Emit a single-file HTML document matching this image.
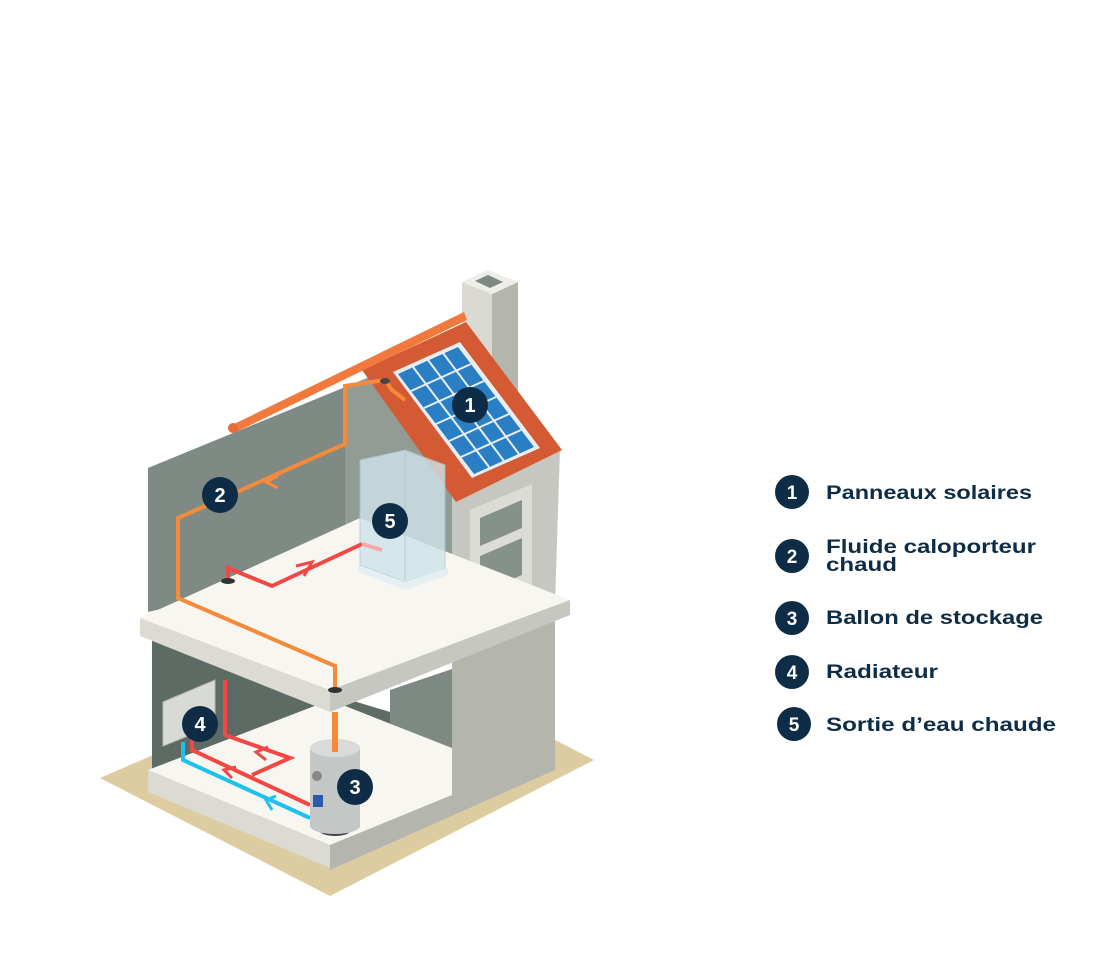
<!DOCTYPE html>
<html><head><meta charset="utf-8"><style>
html,body{margin:0;padding:0;background:#fff;width:1101px;height:963px;overflow:hidden}
svg{display:block}
text{font-family:"Liberation Sans",sans-serif;font-weight:bold;fill:#0E2C45}
.b text{fill:#fff;text-anchor:middle}
</style></head><body>
<svg width="1101" height="963" viewBox="0 0 1101 963" xmlns="http://www.w3.org/2000/svg">
<polygon points="100,778 160,752 540,732 594,760 330,896" fill="#DCCCA0"/>
<polygon points="152,640 390,712 390,740 152,772" fill="#5E6A64"/>
<polygon points="390,690 455,668 455,780 390,800" fill="#7E8984"/>
<polygon points="148,770 330,700 452,748 452,795 330,845" fill="#F7F6F1"/>
<polygon points="148,770 330,845 330,868 148,792" fill="#DCDBD3"/>
<polygon points="452,650 555,615 555,770 330,870 330,845 452,795" fill="#B4B6AE"/>
<polygon points="148,468 372,376 372,560 148,612" fill="#7F8A85"/>
<polygon points="345,388 372,376 455,470 455,560 345,560" fill="#939B95"/>
<polygon points="452,458 560,448 555,605 452,650" fill="#C6C7C0"/>
<polygon points="470,510 532,484 532,585 470,612" fill="#DCDCD6"/>
<polygon points="480,518 522,500 522,528 480,546" fill="#87918C"/>
<polygon points="480,556 522,538 522,575 480,593" fill="#87918C"/>
<polygon points="462,282 492,294 492,400 462,390" fill="#DAD9D2"/>
<polygon points="492,294 518,282 518,395 492,405" fill="#B4B6AE"/>
<polygon points="462,282 488,270 518,282 492,294" fill="#EEEDE8"/>
<polygon points="475,281 488,275 503,282 490,288" fill="#7E8984"/>
<polygon points="140,618 360,518 570,600 330,690" fill="#F7F6F1"/>
<polygon points="140,618 330,690 330,712 140,636" fill="#DCDBD3"/>
<polygon points="330,690 570,600 570,615 330,712" fill="#C6C7C0"/>
<polygon points="362,370 466,322 562,450 456,502" fill="#D35A32"/>
<polygon points="230,426 464,312 467,320 234,433" fill="#F2793D"/>
<circle cx="233" cy="428" r="5" fill="#E86A35"/>
<polygon points="393,372 460,342 540,448 472,478" fill="#E8EEF3"/>
<polygon points="398,374 458,347 534,447 474,474" fill="#2A7EC4"/>
<g stroke="#E8EEF3" stroke-width="2">
<line x1="413" y1="367" x2="489" y2="467"/><line x1="428" y1="360" x2="504" y2="461"/><line x1="443" y1="353" x2="519" y2="454"/>
<line x1="411" y1="391" x2="471" y2="364"/><line x1="424" y1="408" x2="484" y2="381"/><line x1="436" y1="424" x2="496" y2="397"/>
<line x1="449" y1="441" x2="509" y2="414"/><line x1="461" y1="457" x2="521" y2="430"/>
</g>
<polygon points="360,460 405,450 445,465 445,570 405,582 360,565" fill="#CFE4EA" opacity="0.8" stroke="#A9CBD6"/>
<polygon points="358,565 405,582 448,568 448,575 405,590 358,572" fill="#E6F0F3"/>
<line x1="405" y1="452" x2="405" y2="580" stroke="#A9CBD6"/>
<polyline points="405,400 392,390 385,380 345,386 345,444 178,518 178,598 335,666 335,690" fill="none" stroke="#F58A3A" stroke-width="4"/>
<line x1="335" y1="712" x2="335" y2="745" stroke="#F58A3A" stroke-width="6"/>
<ellipse cx="385" cy="381" rx="5" ry="3" fill="#444"/>
<ellipse cx="335" cy="690" rx="7" ry="3" fill="#333"/>
<polyline points="278,476 266,482 278,488" fill="none" stroke="#F58A3A" stroke-width="3"/>
<polyline points="228,580 228,568 272,586 362,544" fill="none" stroke="#F24744" stroke-width="4"/>
<polyline points="296,566 312,562 304,576" fill="none" stroke="#F24744" stroke-width="3"/>
<line x1="362" y1="544" x2="382" y2="550" stroke="#F6A7A8" stroke-width="4"/>
<ellipse cx="228" cy="581" rx="7" ry="3" fill="#333"/>
<polyline points="225,680 225,735 290,758 252,775" fill="none" stroke="#F24744" stroke-width="4"/>
<polyline points="192,735 192,750 310,805" fill="none" stroke="#F24744" stroke-width="4"/>
<polyline points="268,747 256,752 266,760" fill="none" stroke="#F24744" stroke-width="3"/>
<polyline points="236,767 224,770 232,778" fill="none" stroke="#F24744" stroke-width="3"/>
<polyline points="183,742 183,760 310,818" fill="none" stroke="#1EC0EE" stroke-width="4"/>
<polyline points="276,796 266,800 272,810" fill="none" stroke="#1EC0EE" stroke-width="3"/>
<polygon points="163,702 215,680 215,725 163,746" fill="#D8DAD6" stroke="#B8BAB6"/>
<ellipse cx="335" cy="830" rx="16" ry="6" fill="#444"/>
<rect x="310" y="748" width="50" height="78" fill="#C3C7C6"/>
<ellipse cx="335" cy="826" rx="25" ry="8" fill="#C3C7C6"/>
<ellipse cx="335" cy="748" rx="25" ry="9" fill="#D8DBDA"/>
<line x1="335" y1="738" x2="335" y2="752" stroke="#F58A3A" stroke-width="6"/>
<circle cx="317" cy="776" r="5" fill="#888"/>
<rect x="313" y="795" width="10" height="12" fill="#2A5BA8"/>
<g class="b" font-size="20">
<circle cx="470" cy="405" r="18" fill="#0E2C45"/><text x="470" y="412">1</text>
<circle cx="220" cy="495" r="18" fill="#0E2C45"/><text x="220" y="502">2</text>
<circle cx="355" cy="787" r="18" fill="#0E2C45"/><text x="355" y="794">3</text>
<circle cx="200" cy="724" r="18" fill="#0E2C45"/><text x="200" y="731">4</text>
<circle cx="390" cy="521" r="18" fill="#0E2C45"/><text x="390" y="528">5</text>
</g>
<g class="b" font-size="19">
<circle cx="792" cy="492" r="17" fill="#0E2C45"/><text x="792" y="499">1</text>
<circle cx="792" cy="556" r="17" fill="#0E2C45"/><text x="792" y="563">2</text>
<circle cx="792" cy="618" r="17" fill="#0E2C45"/><text x="792" y="625">3</text>
<circle cx="792" cy="672" r="17" fill="#0E2C45"/><text x="792" y="679">4</text>
<circle cx="794" cy="724" r="17" fill="#0E2C45"/><text x="794" y="731">5</text>
</g>
<g font-size="19">
<text x="826" y="499" textLength="206" lengthAdjust="spacingAndGlyphs">Panneaux solaires</text>
<text x="826" y="553" textLength="210" lengthAdjust="spacingAndGlyphs">Fluide caloporteur</text>
<text x="826" y="571" textLength="71" lengthAdjust="spacingAndGlyphs">chaud</text>
<text x="826" y="624" textLength="217" lengthAdjust="spacingAndGlyphs">Ballon de stockage</text>
<text x="826" y="678" textLength="112" lengthAdjust="spacingAndGlyphs">Radiateur</text>
<text x="826" y="731" textLength="230" lengthAdjust="spacingAndGlyphs">Sortie d’eau chaude</text>
</g>
</svg>
</body></html>
